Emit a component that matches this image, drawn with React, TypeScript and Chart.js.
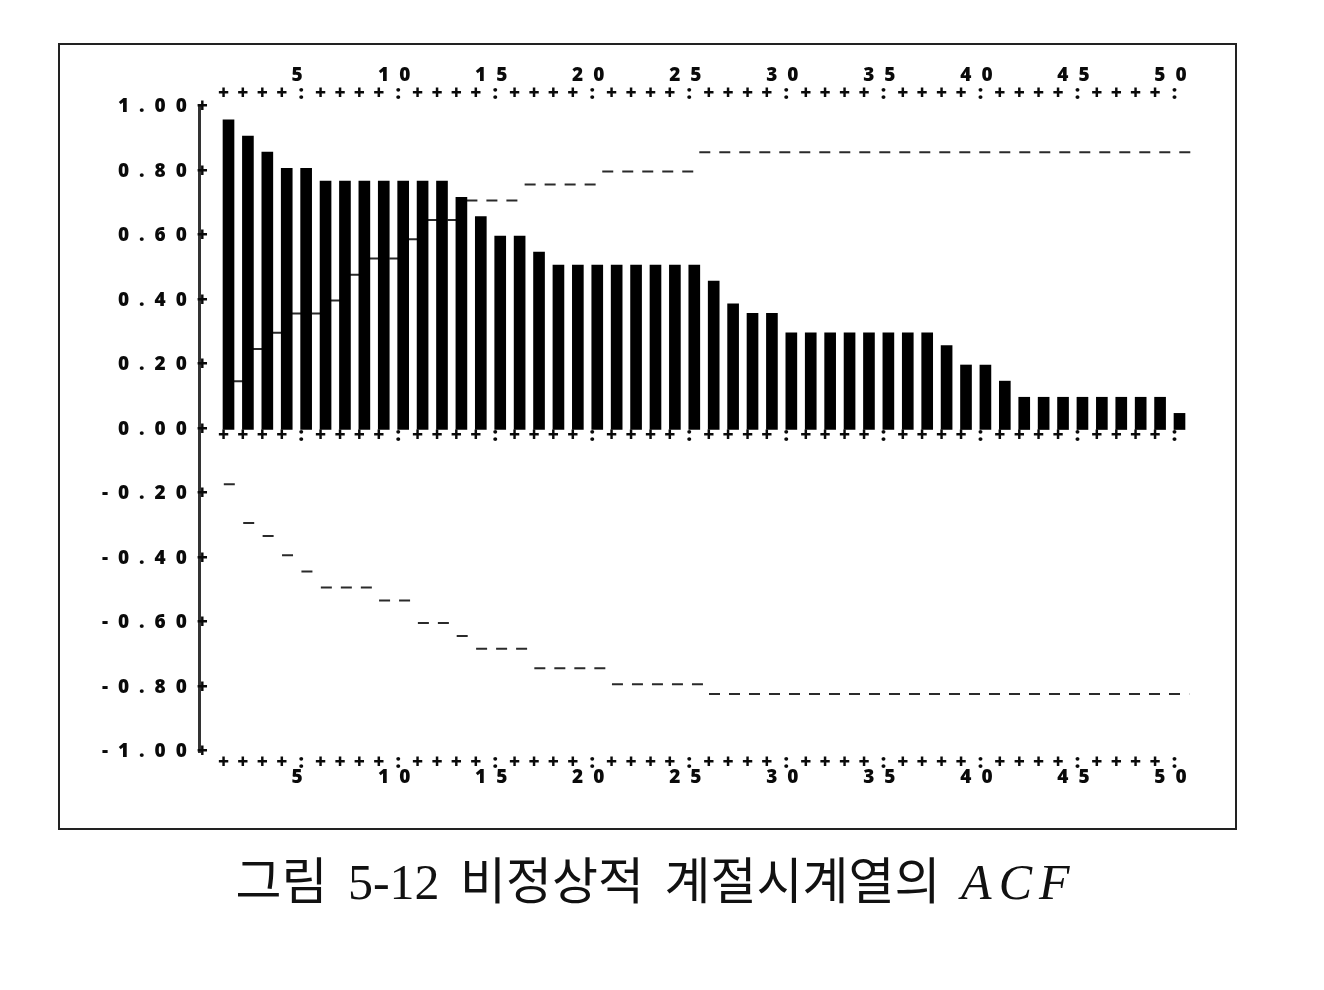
import React, { useEffect, useRef } from 'react';
import { Chart, registerables } from 'chart.js';

Chart.register(...registerables);

// Lags (categories)
const LAGS = [
  1, 2, 3, 4, 5, 6, 7, 8, 9, 10,
  11, 12, 13, 14, 15, 16, 17, 18, 19, 20,
  21, 22, 23, 24, 25, 26, 27, 28, 29, 30,
  31, 32, 33, 34, 35, 36, 37, 38, 39, 40,
  41, 42, 43, 44, 45, 46, 47, 48, 49, 50,
];

// Sample autocorrelations
const ACF = [
  0.96, 0.91, 0.86, 0.81, 0.81, 0.77, 0.77, 0.77, 0.77, 0.77,
  0.77, 0.77, 0.72, 0.66, 0.60, 0.60, 0.55, 0.51, 0.51, 0.51,
  0.51, 0.51, 0.51, 0.51, 0.51, 0.46, 0.39, 0.36, 0.36, 0.30,
  0.30, 0.30, 0.30, 0.30, 0.30, 0.30, 0.30, 0.26, 0.20, 0.20,
  0.15, 0.10, 0.10, 0.10, 0.10, 0.10, 0.10, 0.10, 0.10, 0.05,
];

// Upper confidence limit per lag
const UPPER_BAND = [
  0.15, 0.25, 0.30, 0.36, 0.36, 0.40, 0.48, 0.53, 0.53, 0.59,
  0.65, 0.65, 0.71, 0.71, 0.71, 0.76, 0.76, 0.76, 0.76, 0.80,
  0.80, 0.80, 0.80, 0.80, 0.86, 0.86, 0.86, 0.86, 0.86, 0.86,
  0.86, 0.86, 0.86, 0.86, 0.86, 0.86, 0.86, 0.86, 0.86, 0.86,
  0.86, 0.86, 0.86, 0.86, 0.86, 0.86, 0.86, 0.86, 0.86, 0.86,
];

// Lower confidence limit per lag
const LOWER_BAND = [
  -0.17, -0.29, -0.33, -0.39, -0.44, -0.49, -0.49, -0.49, -0.53, -0.53,
  -0.60, -0.60, -0.64, -0.68, -0.68, -0.68, -0.74, -0.74, -0.74, -0.74,
  -0.79, -0.79, -0.79, -0.79, -0.79, -0.82, -0.82, -0.82, -0.82, -0.82,
  -0.82, -0.82, -0.82, -0.82, -0.82, -0.82, -0.82, -0.82, -0.82, -0.82,
  -0.82, -0.82, -0.82, -0.82, -0.82, -0.82, -0.82, -0.82, -0.82, -0.82,
];

// Tick labels
const Y_TICKS = [1.0, 0.8, 0.6, 0.4, 0.2, 0.0, -0.2, -0.4, -0.6, -0.8, -1.0];
const X_NUMBER_TICKS = [5, 10, 15, 20, 25, 30, 35, 40, 45, 50];

const UPPER_SHIFT = 0.5;
const LOWER_SHIFT = 0;

function bandPoints(values: number[], shift: number) {
  const pts: { x: number; y: number | null }[] = [];
  let i = 0;
  while (i < values.length) {
    let j = i;
    while (j + 1 < values.length && values[j + 1] === values[i]) j++;
    pts.push({ x: LAGS[i] - 0.5 + shift, y: values[i] });
    pts.push({ x: LAGS[j] + 0.5 + shift, y: values[i] });
    pts.push({ x: LAGS[j] + 0.5 + shift, y: null });
    i = j + 1;
  }
  return pts;
}

const FONT_FAMILY = '"Open Sans", "Liberation Sans", Arial, sans-serif';
const FONT_SIZE = 19;
const FONT_WEIGHT = 800;
const LETTER_SPACING = 10;
const tickFont = { family: FONT_FAMILY, size: FONT_SIZE, weight: FONT_WEIGHT as any };
const TICK_COLOR = '#0a0a0a';

const plusLabel = (v: number) => (LAGS.includes(v) ? (v % 5 === 0 ? ':' : '+') : '');
const numLabel = (v: number) => (X_NUMBER_TICKS.includes(v) ? String(v) : '');
const yLabel = (v: number) => {
  const n = Math.abs(v) < 1e-9 ? 0 : v;
  return n.toFixed(2) + '+';
};

function xAxis(
  position: any,
  weight: number,
  label: (v: number) => string,
  padding: number,
  height?: number,
  labelOffset = 0,
) {
  return {
    type: 'linear' as const,
    position,
    weight,
    min: 0,
    max: 51,
    grid: { display: false, drawTicks: false },
    border: { display: false },
    afterBuildTicks: (s: any) => {
      s.ticks = LAGS.map((v) => ({ value: v }));
    },
    afterFit: height !== undefined ? (s: any) => { s.height = height; } : undefined,
    ticks: {
      autoSkip: false,
      maxRotation: 0,
      minRotation: 0,
      padding,
      labelOffset,
      font: tickFont,
      color: TICK_COLOR,
      callback: (v: any) => label(Number(v)),
    },
  };
}

const letterSpacingPlugin = {
  id: 'letterSpacing',
  beforeDraw(chart: any) {
    chart.ctx.letterSpacing = LETTER_SPACING + 'px';
  },
  afterDraw(chart: any) {
    chart.ctx.letterSpacing = '0px';
  },
};

const bandStyle = {
  borderColor: '#2a2a2a',
  borderWidth: 2,
  borderDash: [11, 9],
  borderDashOffset: 15,
  pointRadius: 0,
  spanGaps: false,
  order: 1,
  xAxisID: 'x',
  yAxisID: 'y',
};

export default function App() {
  const ref = useRef<HTMLCanvasElement>(null);

  useEffect(() => {
    if (!ref.current) return;
    // width of the widest y label (unspaced), as Chart.js measures it, to right-align mirrored labels
    const mctx = document.createElement('canvas').getContext('2d')!;
    mctx.font = `${FONT_WEIGHT} ${FONT_SIZE}px ${FONT_FAMILY}`;
    const widest = Math.max(...Y_TICKS.map((v) => mctx.measureText(yLabel(v)).width));
    const Y_AXIS_WIDTH = 139;
    const LABEL_RIGHT = 19; // text right edge (incl. trailing spacing) past the axis line

    const chart = new Chart(ref.current, {
      type: 'bar',
      data: {
        datasets: [
          {
            type: 'bar',
            data: LAGS.map((l, i) => ({ x: l, y: ACF[i] })),
            backgroundColor: '#000',
            barThickness: 11,
            order: 0,
            xAxisID: 'x',
            yAxisID: 'y',
          } as any,
          {
            type: 'line',
            data: bandPoints(UPPER_BAND, UPPER_SHIFT),
            ...bandStyle,
          } as any,
          {
            type: 'line',
            data: bandPoints(LOWER_BAND, LOWER_SHIFT),
            ...bandStyle,
          } as any,
        ],
      },
      options: {
        responsive: false,
        animation: false,
        devicePixelRatio: 1,
        events: [],
        layout: { padding: { left: 0, right: 26, top: 0, bottom: 0 } },
        plugins: { legend: { display: false }, tooltip: { enabled: false } },
        scales: {
          x: xAxis('bottom', 1, plusLabel, -0.5, 16),
          xBottomNum: xAxis('bottom', 2, numLabel, -1.5, 60, -4),
          xTop: xAxis('top', 1, plusLabel, 2.5, 22),
          xTopNum: xAxis('top', 2, numLabel, -1.5, 40, -4),
          xZero: xAxis({ y: 0 }, 0, plusLabel, -5),
          y: {
            type: 'linear',
            position: 'left',
            min: -1,
            max: 1,
            grid: { display: false, drawTicks: false },
            border: { display: true, color: '#333', width: 3, dash: [2, 5] },
            afterBuildTicks: (s: any) => {
              s.ticks = Y_TICKS.map((v) => ({ value: v }));
            },
            afterFit: (s: any) => {
              s.width = Y_AXIS_WIDTH;
            },
            ticks: {
              mirror: true,
              crossAlign: 'far',
              padding: LABEL_RIGHT - widest,
              font: tickFont,
              color: TICK_COLOR,
              callback: (v: any) => yLabel(Number(v)),
            },
          },
        } as any,
      },
      plugins: [letterSpacingPlugin],
    });
    return () => chart.destroy();
  }, []);

  return (
    <div style={{ position: 'relative', width: 1308, height: 974, background: '#fff' }}>
      <div
        style={{
          position: 'absolute',
          left: 50,
          top: 35,
          width: 1179,
          height: 787,
          border: '2px solid #222',
          boxSizing: 'border-box',
          background: '#fff',
        }}
      >
        <canvas ref={ref} width={1175} height={783} style={{ display: 'block' }} />
      </div>
      <div
        style={{
          position: 'absolute',
          left: 0,
          top: 845,
          width: 1296,
          textAlign: 'center',
          fontFamily: '"Liberation Serif", "Noto Sans CJK KR", serif',
          fontSize: 50,
          lineHeight: '58px',
          wordSpacing: 8,
          color: '#111',
          whiteSpace: 'nowrap',
        }}
      >
        그림 5-12 비정상적 계절시계열의{' '}
        <span style={{ fontStyle: 'italic', fontFamily: '"Liberation Serif", serif', letterSpacing: 7 }}>ACF</span>
      </div>
    </div>
  );
}
